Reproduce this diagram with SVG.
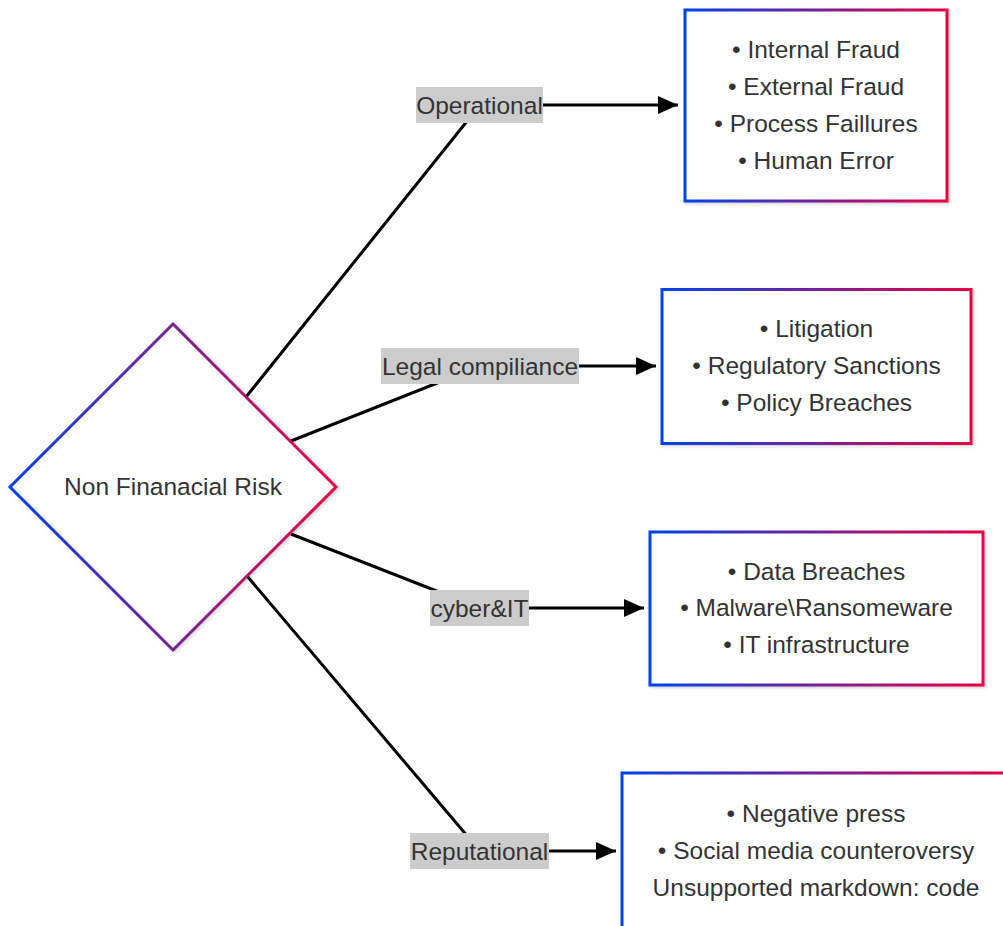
<svg xmlns="http://www.w3.org/2000/svg" width="1003" height="926" viewBox="0 0 1003 926">
  <style>
    .node-shape { fill: #ffffff; stroke: url(#edgeGrad); stroke-width: 3; filter: url(#softShadow); }
    .node-text { font-family: "Liberation Sans", Arial, sans-serif; font-size: 24.5px; fill: #333333; text-anchor: middle; }
    .edge-path { fill: none; stroke: #000000; stroke-width: 3; }
    .edge-label-bg { fill: #cccccc; }
    .edge-label { font-family: "Liberation Sans", Arial, sans-serif; font-size: 24.5px; fill: #333333; text-anchor: middle; }
  </style>
  <defs>
    <linearGradient id="edgeGrad" x1="0" y1="0" x2="1" y2="0">
      <stop offset="0" stop-color="#0042eb"/>
      <stop offset="1" stop-color="#eb0042"/>
    </linearGradient>
    <filter id="softShadow" x="-10%" y="-10%" width="125%" height="125%">
      <feDropShadow dx="1.5" dy="1.5" stdDeviation="1.5" flood-color="#000000" flood-opacity="0.18"/>
    </filter>
    <marker id="arrowHead" markerUnits="userSpaceOnUse" markerWidth="22" markerHeight="20" refX="20" refY="9" orient="auto">
      <path d="M0,0 L20,9 L0,18 Z" fill="#000000"/>
    </marker>
  </defs>

  <rect width="1003" height="926" fill="#ffffff"/>

  <!-- connectors: centre node -> edge label -> category box -->
  <g id="connectors">
    <path class="edge-path" d="M246,397 L480,105 L678,105" marker-end="url(#arrowHead)"/>
    <path class="edge-path" d="M291,441 L480,366 L656,366" marker-end="url(#arrowHead)"/>
    <path class="edge-path" d="M291,534 L480,608 L644,608" marker-end="url(#arrowHead)"/>
    <path class="edge-path" d="M247,576 L480,851 L616,851" marker-end="url(#arrowHead)"/>
  </g>

  <!-- edge labels -->
  <g id="edge-labels">
    <g id="label-operational">
      <rect class="edge-label-bg" x="416" y="87" width="127" height="36"/>
      <text class="edge-label" x="479.5" y="113.5">Operational</text>
    </g>
    <g id="label-legal">
      <rect class="edge-label-bg" x="381" y="348" width="198" height="36"/>
      <text class="edge-label" x="480" y="374.5">Legal compiliance</text>
    </g>
    <g id="label-cyber">
      <rect class="edge-label-bg" x="430" y="590" width="99" height="36"/>
      <text class="edge-label" x="479.5" y="616.5">cyber&amp;IT</text>
    </g>
    <g id="label-reputational">
      <rect class="edge-label-bg" x="410" y="833" width="139" height="36"/>
      <text class="edge-label" x="479.5" y="859.5">Reputational</text>
    </g>
  </g>

  <!-- centre decision node -->
  <g id="node-nfr">
    <polygon class="node-shape" points="173,324 336,487 173,650 10,487"/>
    <text class="node-text" x="173" y="495">Non Finanacial Risk</text>
  </g>

  <g id="node-operational">
    <rect class="node-shape" x="685" y="10" width="262" height="191"/>
    <text class="node-text" x="816" y="58">• Internal Fraud</text>
    <text class="node-text" x="816" y="95">• External Fraud</text>
    <text class="node-text" x="816" y="132">• Process Faillures</text>
    <text class="node-text" x="816" y="168.5">• Human Error</text>
  </g>

  <g id="node-legal">
    <rect class="node-shape" x="662" y="289.5" width="309" height="154"/>
    <text class="node-text" x="816.5" y="337">• Litigation</text>
    <text class="node-text" x="816.5" y="373.5">• Regulatory Sanctions</text>
    <text class="node-text" x="816.5" y="410.5">• Policy Breaches</text>
  </g>

  <g id="node-cyber">
    <rect class="node-shape" x="650" y="532" width="333" height="153"/>
    <text class="node-text" x="816.5" y="579.5">• Data Breaches</text>
    <text class="node-text" x="816.5" y="616">• Malware\Ransomeware</text>
    <text class="node-text" x="816.5" y="653">• IT infrastructure</text>
  </g>

  <g id="node-reputational">
    <rect class="node-shape" x="622" y="773" width="388" height="190"/>
    <text class="node-text" x="816" y="822">• Negative press</text>
    <text class="node-text" x="816" y="859">• Social media counteroversy</text>
    <text class="node-text" x="816" y="895.5">Unsupported markdown: code</text>
  </g>
</svg>
